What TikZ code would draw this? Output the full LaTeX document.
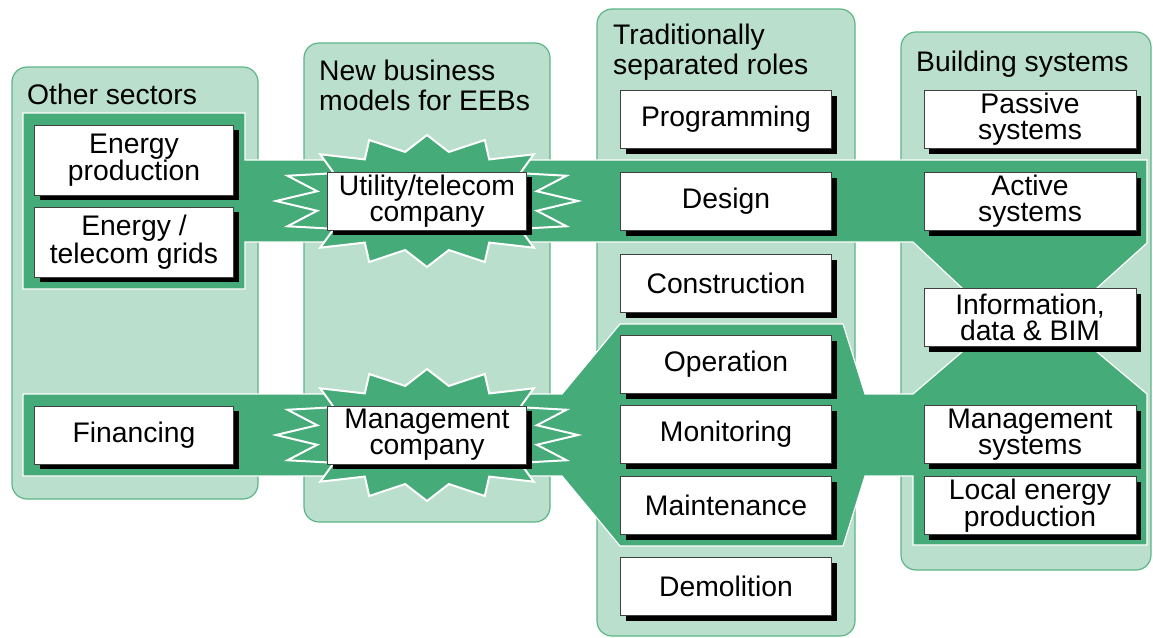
\documentclass[tikz,border=0pt]{standalone}
\usepackage{fontspec}
\setmainfont{Liberation Sans}
\usepackage{tikz}
\usetikzlibrary{positioning, shadows}

\definecolor{palegreen}{HTML}{BADFCC}
\definecolor{edgegreen}{HTML}{5DB587}
\definecolor{bandgreen}{HTML}{45AB78}

\begin{document}
\begin{tikzpicture}[x=1pt,y=-1pt,
                    column/.style={fill=palegreen,draw=edgegreen,line width=1.2pt,rounded corners=15pt},
                    band/.style={fill=bandgreen,draw=white,line width=1.2pt},
                    burst/.style={fill=bandgreen,draw=white,line width=2pt}]
\tikzstyle{role}=[draw=black!75,fill=white,line width=0.8pt,align=center,inner sep=2pt,outer sep=0pt,
                  minimum width=211pt,minimum height=58pt,
                  drop shadow={shadow xshift=5pt,shadow yshift=-5pt,fill=black,opacity=1}]
\tikzstyle{head}=[anchor=north west,inner sep=0pt,align=left,font=\fontsize{28.3}{30}\selectfont]
\tikzset{font=\fontsize{28.3}{26}\selectfont}

        \useasboundingbox (0,0) rectangle (1153,637);

        % columns
        \draw[column] (12,67) rectangle (258,499);
        \draw[column] (304,43) rectangle (550,522);
        \draw[column] (597,9) rectangle (855,636);
        \draw[column] (901,32) rectangle (1151,570);

        % dark green band
        \draw[band] (23,113) -- (245,113) -- (245,160) -- (1147,160) -- (1147,243)
              -- (1097,288) -- (1097,352) -- (1147,394) -- (1147,545) -- (913,545)
              -- (913,476) -- (865,476) -- (843,546) -- (620,546) -- (562,476)
              -- (23,476) -- (23,394) -- (562,394) -- (620,324) -- (843,324)
              -- (865,394) -- (913,394) -- (962,352) -- (962,288) -- (913,242)
              -- (245,242) -- (245,289) -- (23,289) -- cycle;

        % starbursts
        \foreach \cy in {201,435}
          \draw[burst] plot[variable=\k, samples at={0,...,31}]
              ({427+ifthenelse(mod(\k,2)==0,151,112)*cos(\k*11.25)},
               {\cy+ifthenelse(mod(\k,2)==0,66,50)*sin(\k*11.25)}) -- cycle;

        \node[head] (hother) at (27,84)  {Other sectors};
        \node[head] (hnew)   at (319,60) {New business\\models for EEBs};
        \node[head] (htrad)  at (613,24) {Traditionally\\separated roles};
        \node[head] (hbuild) at (916,51) {Building systems};

        \node[role,minimum width=199pt,minimum height=70pt] (prod)  at (134,160)          {Energy\\production};
        \node[role,minimum width=199pt,minimum height=70pt] (grids) [below=12pt of prod]  {Energy /\\telecom grids};
        \node[role,minimum width=199pt]                     (fin)   at (134,435)          {Financing};

        \node[role,minimum width=199pt] (util) at (427,201) {Utility/telecom\\company};
        \node[role,minimum width=199pt] (mgmt) at (427,435) {Management\\company};

        \node[role] (prog)   at (726,119.5)          {Programming};
        \node[role] (design) [below=24pt of prog]    {Design};
        \node[role] (constr) [below=24pt of design]  {Construction};
        \node[role] (oper)   [below=23pt of constr]  {Operation};
        \node[role] (monit)  [below=12pt of oper]    {Monitoring};
        \node[role] (maint)  [below=13pt of monit]   {Maintenance};
        \node[role] (demol)  [below=23pt of maint]   {Demolition};

        \node[role,minimum width=212pt] (passive)   at (1030,119.5)           {Passive\\systems};
        \node[role,minimum width=212pt] (active)    [below=24pt of passive]   {Active\\systems};
        \node[role,minimum width=212pt] (info)      [below=58pt of active]    {Information,\\data \& BIM};
        \node[role,minimum width=212pt] (mgmtsys)   [below=59pt of info]      {Management\\systems};
        \node[role,minimum width=212pt] (localprod) [below=13pt of mgmtsys]   {Local energy\\production};

\end{tikzpicture}
\end{document}
